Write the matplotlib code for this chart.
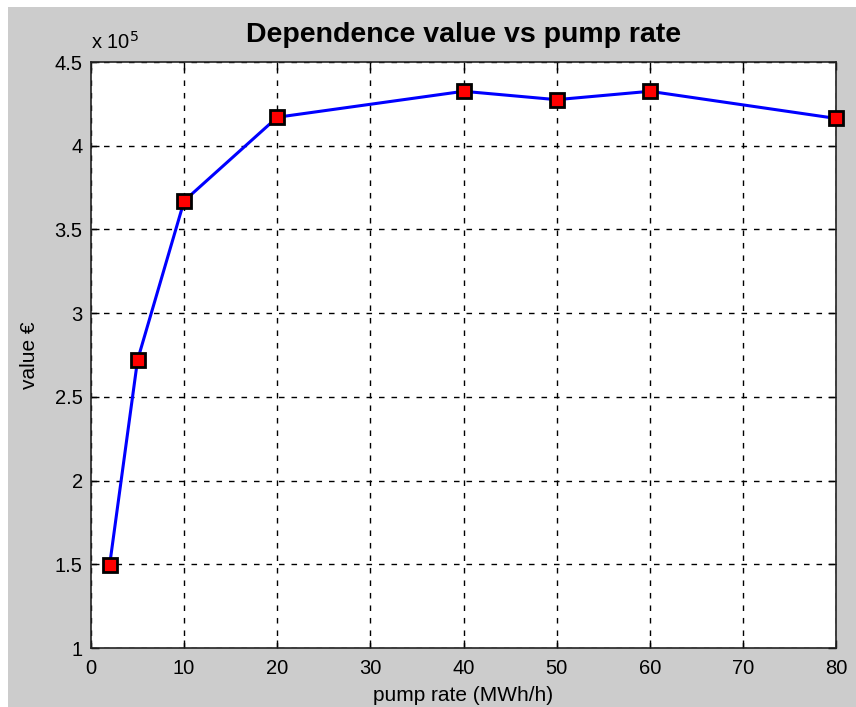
import matplotlib
matplotlib.use("Agg")
import matplotlib.pyplot as plt
from matplotlib.patches import Rectangle

pump_rate = [2, 5, 10, 20, 40, 50, 60, 80]
value_e5 = [1.495, 2.72, 3.67, 4.17, 4.325, 4.275, 4.325, 4.163]
x_ticks = [0, 10, 20, 30, 40, 50, 60, 70, 80]
y_ticks = [1, 1.5, 2, 2.5, 3, 3.5, 4, 4.5]
y_tick_labels = ["1", "1.5", "2", "2.5", "3", "3.5", "4", "4.5"]

plt.rcParams['font.family'] = ['Liberation Sans', 'DejaVu Sans']

fig = plt.figure(figsize=(8.56, 7.07), dpi=100)
fig.patch.set_facecolor('white')
fig.patches.append(Rectangle((8/856, 0), 1, 1 - 7/707, transform=fig.transFigure,
                             facecolor='#cccccc', edgecolor='none', zorder=-10))

ax = fig.add_axes([91/856, 59/707, (836-91)/856, (648-62)/707])
ax.set_facecolor('white')
ax.plot(pump_rate, value_e5, color='#0000ff', linewidth=2.2, marker='s',
        markersize=10, markerfacecolor='#ff0000', markeredgecolor='black',
        markeredgewidth=2, zorder=3, clip_on=False)

ax.set_xlim(0, 80)
ax.set_ylim(1, 4.5)
ax.set_xticks(x_ticks)
ax.set_yticks(y_ticks)
ax.set_yticklabels(y_tick_labels)
ax.tick_params(direction='in', length=6, width=1, labelsize=14.5, colors='black',
               top=True, right=True)
ax.tick_params(axis='x', pad=8)
ax.tick_params(axis='y', pad=6)
ax.grid(True, color='black', linestyle=(0, (4, 5)), linewidth=1)
for s in ax.spines.values():
    s.set_linewidth(1.2)
    s.set_color('#222222')

ax.set_title('Dependence value vs pump rate', fontsize=20.5, fontweight='bold', pad=14.5)
ax.set_xlabel('pump rate (MWh/h)', fontsize=15, labelpad=6)
ax.set_ylabel('value €', fontsize=15, labelpad=11)
ax.text(0, 1.016, r'x 10$^5$', transform=ax.transAxes, fontsize=14.5,
        ha='left', va='bottom')

fig.savefig('out.png', dpi=100, facecolor=fig.get_facecolor())
